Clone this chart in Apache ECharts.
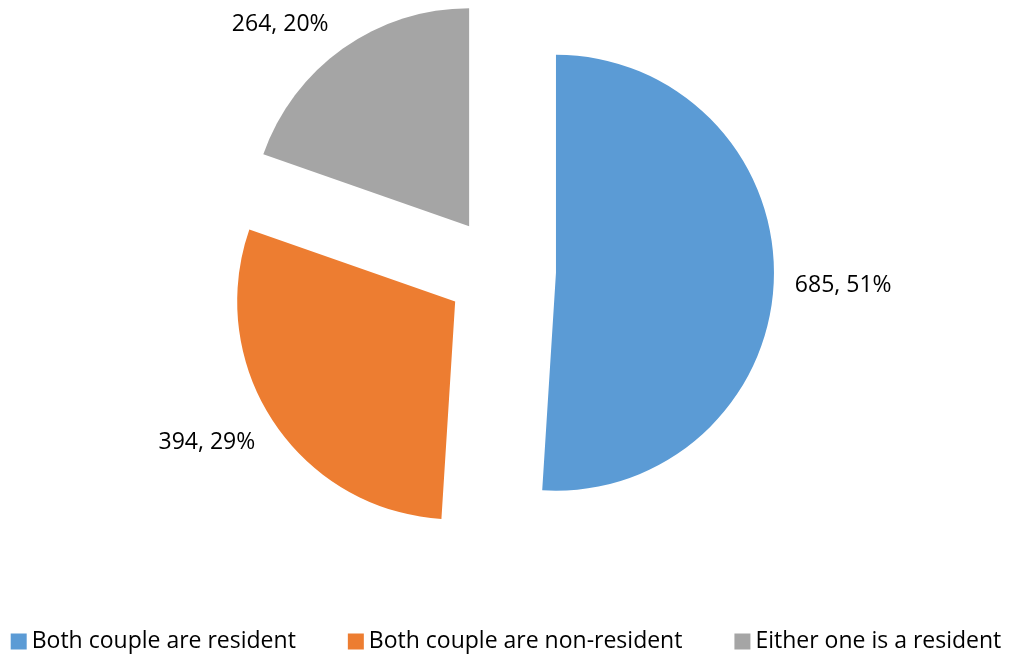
<!DOCTYPE html>
<html>
<head>
<meta charset="utf-8">
<script src="https://cdn.jsdelivr.net/npm/echarts@6/dist/echarts.min.js"></script>
<style>
  html, body { margin: 0; padding: 0; background: #fff; }
  #main { width: 1012px; height: 658px; }
</style>
</head>
<body>
<div id="main"></div>
<script>
// 数据
var categories = ['Both couple are resident', 'Both couple are non-resident', 'Either one is a resident'];
var values = [685, 394, 264];
var colors = ['#5B9BD5', '#ED7D31', '#A5A5A5'];
var labelLens = [16, 28, 30];
// 标签微调
var labelShift = [[0, 5], [10, 5], [8, 0]];

var pie_chart = echarts.init(document.getElementById('main'));

var pieData = categories.map(function (name, i) {
    return {
        name: name,
        value: values[i],
        selected: true,
        itemStyle: { color: colors[i] },
        labelLine: { show: false, length: labelLens[i], length2: 0 }
    };
});

pie_chart.setOption({
    animation: false,
    textStyle: { fontFamily: 'Open Sans' },
    legend: {
        data: categories,
        left: 'center',
        bottom: 0,
        itemWidth: 16,
        itemHeight: 16,
        itemGap: 52,
        icon: 'rect',
        selectedMode: false,
        textStyle: {
            fontFamily: 'Open Sans',
            fontSize: 23,
            color: '#000'
        }
    },
    series: [
        {
            name: 'Couples',
            type: 'pie',
            center: [501, 271],
            radius: 218,
            startAngle: 90,
            clockwise: true,
            selectedMode: 'multiple',
            selectedOffset: 55,
            percentPrecision: 0,
            avoidLabelOverlap: false,
            label: {
                show: true,
                position: 'outside',
                formatter: '{c}, {d}%',
                fontFamily: 'Open Sans',
                fontSize: 23,
                color: '#000'
            },
            labelLayout: function (params) {
                var s = labelShift[params.dataIndex];
                return { dx: s[0], dy: s[1] };
            },
            labelLine: { show: false },
            emphasis: { disabled: true },
            data: pieData
        }
    ]
});
</script>
</body>
</html>
